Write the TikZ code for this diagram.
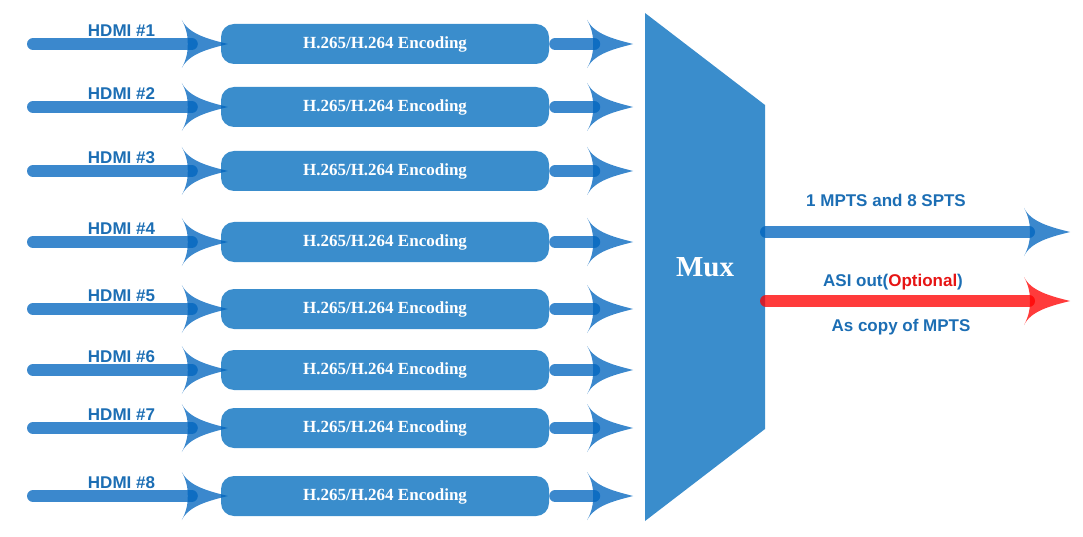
\documentclass[tikz,border=0pt]{standalone}
\usepackage{fontspec}
\setmainfont{Liberation Serif}
\newfontfamily\lsans{Liberation Sans}
\definecolor{boxblue}{RGB}{58,141,204}
\definecolor{ablue}{RGB}{0,100,190}
\definecolor{ared}{RGB}{255,0,0}
\definecolor{tblue}{RGB}{28,110,180}
\definecolor{tred}{RGB}{230,20,20}
\tikzset{
  x=1pt,y=-1pt,
  head/.pic={\fill[pic actions] (0,0) .. controls (-20,5) and (-39,10) .. (-46,24)
     .. controls (-41,15) and (-40,7) .. (-40,0)
     .. controls (-40,-7) and (-41,-15) .. (-46,-24)
     .. controls (-39,-10) and (-20,-5) .. (0,0) -- cycle;},
  encbox/.style={rounded corners=13pt, minimum width=328pt, minimum height=40pt,
     fill=boxblue, text=white, inner sep=0pt,
     font=\bfseries\fontsize{17}{20}\selectfont},
  bluearrow/.style={draw=ablue, draw opacity=.77, line width=12pt, line cap=round},
  redarrow/.style={draw=ared, draw opacity=.77, line width=12pt, line cap=round},
  bluehead/.style={fill=ablue, fill opacity=.77},
  redhead/.style={fill=ared, fill opacity=.77},
  lbl/.style={anchor=base, inner sep=0pt, text=tblue,
     font=\lsans\bfseries\fontsize{17}{20}\selectfont},
}
\begin{document}
\begin{tikzpicture}
\useasboundingbox (0,0) rectangle (1083,537);
% Mux
\fill[boxblue] (645,13) -- (765,105) -- (765,429) -- (645,521) -- cycle;
\node[anchor=base, inner sep=0pt, text=white, font=\bfseries\fontsize{29}{32}\selectfont] (mux) at (705,276) {Mux};
\coordinate (muxA) at (766,232);
\coordinate (muxB) at (766,301);
\foreach \i/\y in {1/44,2/107,3/171,4/242,5/309,6/370,7/428,8/496}{
  \node[encbox] (b\i) at (385,\y) {H.265/H.264 Encoding};
  \coordinate (in\i) at (33,\y);
  \draw[bluearrow] (in\i) -- ([xshift=-29pt]b\i.west);
  \pic[bluehead] at ([xshift=7pt]b\i.west) {head};
  \node[lbl] (l\i) at (121.5,\y-7.5) {HDMI \#\i};
  \draw[bluearrow] ([xshift=6pt]b\i.east) -- ([xshift=45pt]b\i.east);
  \pic[bluehead] at ([xshift=84pt]b\i.east) {head};
}
% outputs
\coordinate (outA) at (1029,232);
\coordinate (outB) at (1029,301);
\draw[bluearrow] (muxA) -- (outA);
\pic[bluehead] at (1070,232) {head};
\draw[redarrow] (muxB) -- (outB);
\pic[redhead] at (1070,301) {head};
\node[lbl] (t1) at (886,207) {1 MPTS and 8 SPTS};
\node[lbl] (t2) at (893,286) {ASI out(\textcolor{tred}{Optional})};
\node[lbl] (t3) at (901,331) {As copy of MPTS};
\end{tikzpicture}
\end{document}
